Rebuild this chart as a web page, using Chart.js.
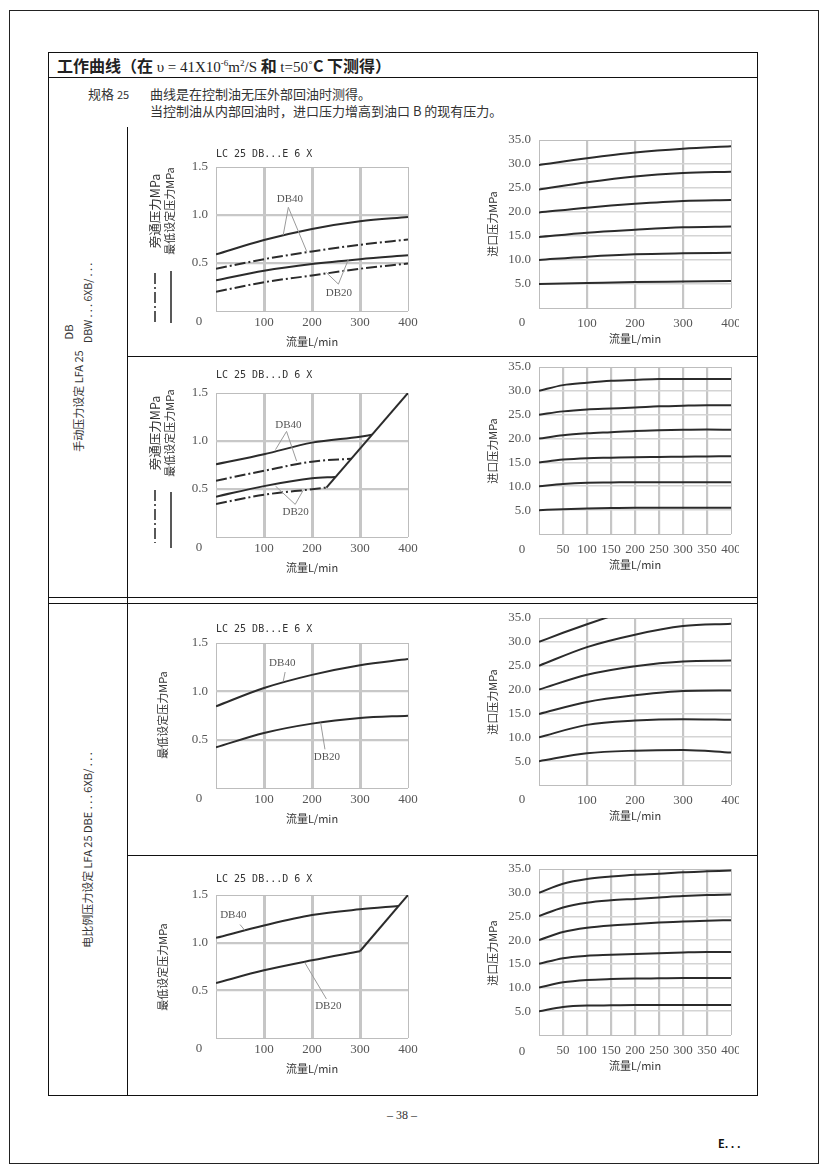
<!DOCTYPE html>
<html>
<head>
<meta charset="utf-8">
<script src="https://cdn.jsdelivr.net/npm/chart.js@4.4.0/dist/chart.umd.min.js"></script>
<style>
body{margin:0;background:#fff;}
#page{position:relative;width:826px;height:1169px;overflow:hidden;font-family:"Noto Sans CJK SC","Noto Sans",sans-serif;color:#222;}
.ln{position:absolute;background:#111;}
.t{position:absolute;white-space:nowrap;}
.rot{position:absolute;white-space:nowrap;transform:translate(-50%,-50%) rotate(-90deg);font-size:11px;color:#333;}
.serif{font-family:"Liberation Serif",serif;font-weight:normal;}
canvas{position:absolute;}
</style>
</head>
<body>
<div id="page">
  <div style="position:absolute;left:9px;top:10px;width:808px;height:1152px;border:1px solid #222;"></div>
  <div style="position:absolute;left:48px;top:52px;width:708px;height:1042px;border:1px solid #111;"></div>
  <div class="ln" style="left:48px;top:77px;width:709px;height:1px;"></div>
  <div class="ln" style="left:127px;top:127px;width:1px;height:968px;"></div>
  <div class="ln" style="left:127px;top:356px;width:630px;height:1px;"></div>
  <div class="ln" style="left:48px;top:597px;width:709px;height:1px;"></div>
  <div class="ln" style="left:48px;top:603px;width:709px;height:1px;"></div>
  <div class="ln" style="left:127px;top:855px;width:630px;height:1px;"></div>

  <div class="t" style="left:57px;top:53px;font-size:16px;line-height:24px;font-weight:bold;">工作曲线（在 <span class="serif" style="font-size:15px;">υ = 41X10<span style="font-size:9px;position:relative;top:-6px;">-6</span>m<span style="font-size:9px;position:relative;top:-6px;">2</span>/S</span> 和 <span class="serif" style="font-size:15px;">t=50˚</span>C 下测得）</div>
  <div class="t" style="left:88px;top:86px;font-size:13px;line-height:16px;color:#333;">规格 <span style="font-size:11px;">25</span></div>
  <div class="t" style="left:150px;top:86px;font-size:13px;line-height:16px;color:#333;">曲线是在控制油无压外部回油时测得。</div>
  <div class="t" style="left:150px;top:103px;font-size:13px;line-height:16px;color:#333;">当控制油从内部回油时，进口压力增高到油口 B 的现有压力。</div>

  <div class="rot" style="left:78px;top:401px;">手动压力设定 LFA 25</div>
  <div class="rot" style="left:68px;top:332px;">DB</div>
  <div class="rot" style="left:87px;top:303px;font-size:10.5px;">DBW . . . 6XB/ . . .</div>
  <div class="rot" style="left:87px;top:850px;">电比例压力设定 LFA 25 DBE . . . 6XB/ . . .</div>

  <div class="t serif" style="left:382px;top:1108px;width:40px;text-align:center;font-size:12px;color:#333;">– 38 –</div>
  <div class="t" style="left:718px;top:1135px;font-size:11px;font-weight:bold;color:#111;">E. . .</div>

  <canvas id="c1" width="290" height="224" style="left:130px;top:129px;"></canvas>
  <canvas id="c2" width="259" height="248" style="left:480px;top:102px;"></canvas>
  <canvas id="c3" width="290" height="224" style="left:130px;top:355px;"></canvas>
  <canvas id="c4" width="259" height="247" style="left:480px;top:329px;"></canvas>
  <canvas id="c5" width="290" height="225" style="left:130px;top:605px;"></canvas>
  <canvas id="c6" width="259" height="247" style="left:480px;top:580px;"></canvas>
  <canvas id="c7" width="290" height="223" style="left:130px;top:857px;"></canvas>
  <canvas id="c8" width="259" height="246" style="left:480px;top:831px;"></canvas>
</div>

<script>
// 流量 L/min
const flowA = [0, 100, 200, 300, 400];
const flowB = [0, 50, 100, 150, 200, 250, 300, 350, 400];

// 手动 LC 25 DB...E 6 X : 最低设定压力 (实线) / 旁通压力 (点划线), MPa
const manE_db40_min  = [0.59, 0.74, 0.855, 0.935, 0.98];
const manE_db40_pass = [0.44, 0.54, 0.62, 0.69, 0.745];
const manE_db20_min  = [0.32, 0.42, 0.49, 0.54, 0.58];
const manE_db20_pass = [0.20, 0.30, 0.37, 0.44, 0.495];

// 手动 E 进口压力 MPa
const manE_inlet = [
    [5.0, 5.2, 5.4, 5.5, 5.6],
    [10.0, 10.7, 11.2, 11.4, 11.5],
    [14.8, 15.7, 16.3, 16.8, 17.0],
    [19.9, 20.9, 21.7, 22.3, 22.5],
    [24.7, 26.2, 27.4, 28.1, 28.4],
    [29.8, 31.2, 32.4, 33.2, 33.7]
];

// 手动 LC 25 DB...D 6 X
const manD_db40_min_flow  = [0, 100, 200, 300, 325];
const manD_db40_min       = [0.757, 0.861, 0.983, 1.045, 1.065];
const manD_db40_pass_flow = [0, 100, 200, 282];
const manD_db40_pass      = [0.587, 0.69, 0.785, 0.816];
const manD_db20_min_flow  = [0, 100, 200, 248];
const manD_db20_min       = [0.42, 0.53, 0.611, 0.625];
const manD_db20_pass_flow = [0, 100, 200, 230];
const manD_db20_pass      = [0.344, 0.44, 0.497, 0.515];
const manD_limit_flow     = [230, 400];
const manD_limit          = [0.515, 1.5];

// 手动 D 进口压力 MPa (flowB)
const manD_inlet = [
    [5.0, 5.2, 5.35, 5.45, 5.5, 5.5, 5.5, 5.5, 5.5],
    [10.0, 10.5, 10.75, 10.8, 10.85, 10.85, 10.85, 10.85, 10.85],
    [15.0, 15.6, 15.9, 16.0, 16.1, 16.15, 16.2, 16.25, 16.3],
    [20.0, 20.7, 21.1, 21.35, 21.6, 21.75, 21.85, 21.9, 21.85],
    [25.0, 25.7, 26.1, 26.3, 26.5, 26.75, 26.9, 27.0, 27.0],
    [30.0, 31.2, 31.7, 32.1, 32.3, 32.5, 32.5, 32.5, 32.5]
];

// 电比例 LC 25 DB...E 6 X : 最低设定压力
const propE_db40 = [0.845, 1.034, 1.17, 1.27, 1.334];
const propE_db20 = [0.42, 0.569, 0.666, 0.724, 0.748];

// 电比例 E 进口压力
const propE_inlet = [
    [5.0, 6.65, 7.2, 7.35, 6.8],
    [10.0, 12.6, 13.5, 13.8, 13.65],
    [14.9, 17.4, 18.8, 19.7, 19.8],
    [20.0, 23.1, 24.9, 25.9, 26.1],
    [25.0, 28.9, 31.5, 33.3, 33.8]
];
const propE_top_flow = [0, 50, 100, 150];
const propE_top      = [30.0, 31.9, 33.7, 35.4];

// 电比例 LC 25 DB...D 6 X
const propD_db40_flow  = [0, 100, 200, 300, 380];
const propD_db40       = [1.05, 1.18, 1.29, 1.35, 1.385];
const propD_db20_flow  = [0, 100, 200, 300];
const propD_db20       = [0.577, 0.71, 0.815, 0.91];
const propD_limit_flow = [300, 400];
const propD_limit      = [0.91, 1.5];

// 电比例 D 进口压力 (flowB)
const propD_inlet = [
    [5.0, 5.9, 6.2, 6.25, 6.3, 6.3, 6.3, 6.3, 6.3],
    [10.0, 11.1, 11.6, 11.8, 11.9, 11.95, 12.0, 12.0, 12.0],
    [15.0, 16.2, 16.7, 16.9, 17.1, 17.25, 17.4, 17.5, 17.5],
    [20.0, 21.7, 22.6, 23.1, 23.4, 23.7, 23.95, 24.1, 24.2],
    [25.1, 26.9, 27.9, 28.4, 28.7, 29.0, 29.3, 29.5, 29.6],
    [30.0, 31.9, 32.9, 33.4, 33.8, 34.0, 34.3, 34.5, 34.7]
];

const DASH = [11, 3, 2, 3];

function xy(xs, ys) {
    return xs.map((x, i) => ({ x: x, y: ys[i] }));
}

function curve(xs, ys, dashed, straight) {
    return {
        data: xy(xs, ys),
        borderColor: '#2b2b2b',
        borderWidth: 2,
        pointRadius: 0,
        fill: false,
        borderDash: dashed ? DASH : [],
        cubicInterpolationMode: straight ? 'default' : 'monotone',
        tension: 0
    };
}

// texts round the plot: corner 0, axis titles, chart title, DB notes
const decor = {
    id: 'decor',
    afterDraw(chart, args, o) {
        const ctx = chart.ctx;
        const a = chart.chartArea;
        const sx = chart.scales.x, sy = chart.scales.y;
        ctx.save();
        ctx.textAlign = 'center';
        ctx.textBaseline = 'middle';
        ctx.fillStyle = '#555';
        ctx.font = '13px "Liberation Serif"';
        ctx.fillText('0', a.left - 17, a.bottom + o.zeroDy);

        ctx.fillStyle = '#333';
        ctx.font = '11px "Noto Sans CJK SC"';
        ctx.fillText('流量L/min', (a.left + a.right) / 2, a.bottom + 31);

        if (o.title) {
            ctx.textAlign = 'left';
            ctx.font = '10px "DejaVu Sans Mono"';
            ctx.fillText(o.title, a.left, a.top - o.titleGap);
        }

        (o.yTitles || []).forEach(t => {
            ctx.save();
            ctx.translate(t.x, a.top + t.cy);
            ctx.rotate(-Math.PI / 2);
            ctx.textAlign = 'center';
            ctx.font = (t.size || 11) + 'px "Noto Sans CJK SC"';
            ctx.fillText(t.text, 0, 0);
            ctx.restore();
        });

        (o.keys || []).forEach(k => {
            ctx.beginPath();
            ctx.setLineDash(k.dash ? DASH : []);
            ctx.lineWidth = 1.5;
            ctx.strokeStyle = '#222';
            ctx.moveTo(k.x, a.top + k.y1);
            ctx.lineTo(k.x, a.top + k.y2);
            ctx.stroke();
        });
        ctx.setLineDash([]);

        (o.notes || []).forEach(n => {
            ctx.strokeStyle = '#9a9a9a';
            ctx.lineWidth = 1;
            n.lines.forEach(l => {
                ctx.beginPath();
                ctx.moveTo(sx.getPixelForValue(l[0]), sy.getPixelForValue(l[1]));
                ctx.lineTo(sx.getPixelForValue(l[2]), sy.getPixelForValue(l[3]));
                ctx.stroke();
            });
            ctx.fillStyle = '#555';
            ctx.textAlign = 'center';
            ctx.font = '11px "Liberation Serif"';
            ctx.fillText(n.text, sx.getPixelForValue(n.x), sy.getPixelForValue(n.y));
        });
        ctx.restore();
    }
};

function makeChart(id, datasets, o) {
    const left = o.side === 'left';
    return new Chart(document.getElementById(id), {
        type: 'line',
        data: { datasets: datasets },
        options: {
            responsive: false,
            animation: false,
            layout: { padding: { top: 38, right: left ? 12 : 8, left: 0, bottom: 0 } },
            plugins: {
                legend: { display: false },
                tooltip: { enabled: false },
                decor: o
            },
            scales: {
                x: {
                    type: 'linear',
                    min: 0,
                    max: 400,
                    ticks: {
                        stepSize: o.xStep,
                        autoSkip: false,
                        maxRotation: 0,
                        padding: left ? 4 : 8,
                        color: '#555',
                        font: { family: 'Liberation Serif', size: 13 },
                        callback: v => v === 0 ? '' : String(v)
                    },
                    grid: {
                        drawTicks: false,
                        color: c => (c.tick.value === 0 || c.tick.value === 400) ? '#bdbdbd' : '#c6c6c6',
                        lineWidth: c => (c.tick.value === 0 || c.tick.value === 400) ? 1 : (left ? 3 : 2.2)
                    },
                    border: { display: false },
                    afterFit: s => { s.height = 42; s.paddingLeft = 0; s.paddingRight = 0; }
                },
                y: {
                    min: 0,
                    max: o.yMax,
                    ticks: {
                        stepSize: o.yStep,
                        padding: 8,
                        color: '#555',
                        font: { family: 'Liberation Serif', size: 13 },
                        callback: v => v === 0 ? '' : v.toFixed(1)
                    },
                    grid: {
                        drawTicks: false,
                        color: c => (c.tick.value === 0 || c.tick.value === o.yMax) ? '#bdbdbd' : (left ? '#c8c8c8' : '#d4d4d4'),
                        lineWidth: c => (c.tick.value === 0 || c.tick.value === o.yMax) ? 1 : (left ? 2.2 : 1.6)
                    },
                    border: { display: false },
                    afterFit: s => { s.width = left ? 86 : 59; s.paddingTop = 0; s.paddingBottom = 0; }
                }
            }
        },
        plugins: [decor]
    });
}

function inletSets(xs, rows) {
    return rows.map(r => curve(xs, r, false, false));
}

const inletTitle = [{ text: '进口压力MPa', x: 13, cy: 84 }];

// 1 手动 E
makeChart('c1', [
    curve(flowA, manE_db40_min, false, false),
    curve(flowA, manE_db40_pass, true, false),
    curve(flowA, manE_db20_min, false, false),
    curve(flowA, manE_db20_pass, true, false)
], {
    side: 'left', yMax: 1.5, yStep: 0.5, xStep: 100, zeroDy: 11,
    title: 'LC 25 DB...E 6 X', titleGap: 13,
    yTitles: [
        { text: '旁通压力MPa', x: 25, cy: 44, size: 12.5 },
        { text: '最低设定压力MPa', x: 40, cy: 44 }
    ],
    keys: [{ x: 25, y1: 106, y2: 156, dash: true }, { x: 41, y1: 104, y2: 156 }],
    notes: [
        { text: 'DB40', x: 154, y: 1.17, lines: [[150.7, 1.08, 140, 0.79], [150.7, 1.08, 189, 0.62]] },
        { text: 'DB20', x: 256, y: 0.19, lines: [[255, 0.28, 230, 0.40], [255, 0.28, 276, 0.54]] }
    ]
});

// 2 手动 E 进口压力
makeChart('c2', inletSets(flowA, manE_inlet), {
    side: 'right', yMax: 35, yStep: 5, xStep: 100, zeroDy: 15, yTitles: inletTitle
});

// 3 手动 D
makeChart('c3', [
    curve(manD_db40_min_flow, manD_db40_min, false, false),
    curve(manD_db40_pass_flow, manD_db40_pass, true, false),
    curve(manD_db20_min_flow, manD_db20_min, false, false),
    curve(manD_db20_pass_flow, manD_db20_pass, true, false),
    curve(manD_limit_flow, manD_limit, false, true)
], {
    side: 'left', yMax: 1.5, yStep: 0.5, xStep: 100, zeroDy: 11,
    title: 'LC 25 DB...D 6 X', titleGap: 18,
    yTitles: [
        { text: '旁通压力MPa', x: 25, cy: 40, size: 12.5 },
        { text: '最低设定压力MPa', x: 40, cy: 40 }
    ],
    keys: [{ x: 25, y1: 97, y2: 150, dash: true }, { x: 41, y1: 99, y2: 155 }],
    notes: [
        { text: 'DB40', x: 151, y: 1.17, lines: [[147, 1.1, 124, 0.91], [147, 1.1, 168, 0.79]] },
        { text: 'DB20', x: 166, y: 0.26, lines: [[165, 0.34, 124, 0.53], [165, 0.34, 182, 0.49]] }
    ]
});

// 4 手动 D 进口压力
makeChart('c4', inletSets(flowB, manD_inlet), {
    side: 'right', yMax: 35, yStep: 5, xStep: 50, zeroDy: 16, yTitles: inletTitle
});

// 5 电比例 E
makeChart('c5', [
    curve(flowA, propE_db40, false, false),
    curve(flowA, propE_db20, false, false)
], {
    side: 'left', yMax: 1.5, yStep: 0.5, xStep: 100, zeroDy: 11,
    title: 'LC 25 DB...E 6 X', titleGap: 14,
    yTitles: [{ text: '最低设定压力MPa', x: 33, cy: 72 }],
    notes: [
        { text: 'DB40', x: 138, y: 1.29, lines: [[144, 1.2, 140, 1.10]] },
        { text: 'DB20', x: 231, y: 0.32, lines: [[227, 0.4, 218, 0.676]] }
    ]
});

// 6 电比例 E 进口压力
makeChart('c6', inletSets(flowA, propE_inlet).concat([curve(propE_top_flow, propE_top, false, false)]), {
    side: 'right', yMax: 35, yStep: 5, xStep: 100, zeroDy: 15, yTitles: inletTitle
});

// 7 电比例 D
makeChart('c7', [
    curve(propD_db40_flow, propD_db40, false, false),
    curve(propD_db20_flow, propD_db20, false, false),
    curve(propD_limit_flow, propD_limit, false, true)
], {
    side: 'left', yMax: 1.5, yStep: 0.5, xStep: 100, zeroDy: 11,
    title: 'LC 25 DB...D 6 X', titleGap: 16,
    yTitles: [{ text: '最低设定压力MPa', x: 33, cy: 72 }],
    notes: [
        { text: 'DB40', x: 36, y: 1.29, lines: [[50, 1.19, 60, 1.13]] },
        { text: 'DB20', x: 234, y: 0.33, lines: [[230, 0.41, 185, 0.79]] }
    ]
});

// 8 电比例 D 进口压力
makeChart('c8', inletSets(flowB, propD_inlet), {
    side: 'right', yMax: 35, yStep: 5, xStep: 50, zeroDy: 17, yTitles: inletTitle
});
</script>
</body>
</html>
